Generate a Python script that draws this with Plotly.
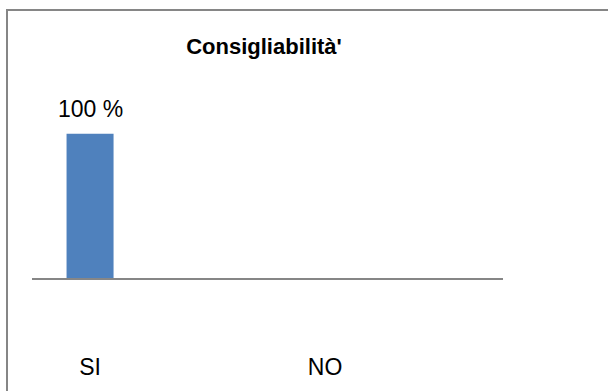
import plotly.graph_objects as go

# Survey answers and share of respondents (%)
categories = ["SI", "NO"]
values = [100, 0]
value_labels = ["100 %", ""]

positions = list(range(len(categories)))
FONT = "Liberation Sans, Arial, sans-serif"

fig = go.Figure()
fig.add_trace(go.Bar(
    x=positions,
    y=values,
    width=0.2,
    marker=dict(color="#4F81BD", line=dict(width=0)),
    hoverinfo="skip",
))

# value labels above the bars
for xp, v, lab in zip(positions, values, value_labels):
    if lab:
        fig.add_annotation(
            x=xp, y=v, text=lab, showarrow=False,
            yanchor="bottom", yshift=10,
            font=dict(family=FONT, size=23, color="#000000"),
        )

fig.update_layout(
    width=608, height=391,
    margin=dict(l=32, r=105, t=60, b=113, autoexpand=False),
    paper_bgcolor="#FFFFFF",
    plot_bgcolor="#FFFFFF",
    showlegend=False,
    title=dict(
        text="<b>Consigliabilità'</b>",
        x=264 / 608, xanchor="center",
        y=1 - 46 / 391, yanchor="middle",
        font=dict(family=FONT, size=22, color="#000000"),
    ),
    xaxis=dict(
        range=[-0.247, 1.757],
        tickmode="array", tickvals=positions, ticktext=categories,
        showgrid=False, zeroline=False,
        showline=True, linecolor="#868686", linewidth=2,
        ticks="", ticklabelstandoff=67, automargin=False,
        tickfont=dict(family=FONT, size=23, color="#000000"),
        fixedrange=True,
    ),
    yaxis=dict(
        range=[0, 151],
        visible=False, showgrid=False, zeroline=False, automargin=False,
        fixedrange=True,
    ),
    shapes=[
        # chart frame
        dict(type="rect", xref="paper", yref="paper",
             x0=(7 - 32) / 471, x1=1.5, y0=-1.0, y1=(278 - 10) / 218,
             line=dict(color="#868686", width=2), fillcolor="rgba(0,0,0,0)",
             layer="below"),
    ],
)

fig.write_html("out.html")
